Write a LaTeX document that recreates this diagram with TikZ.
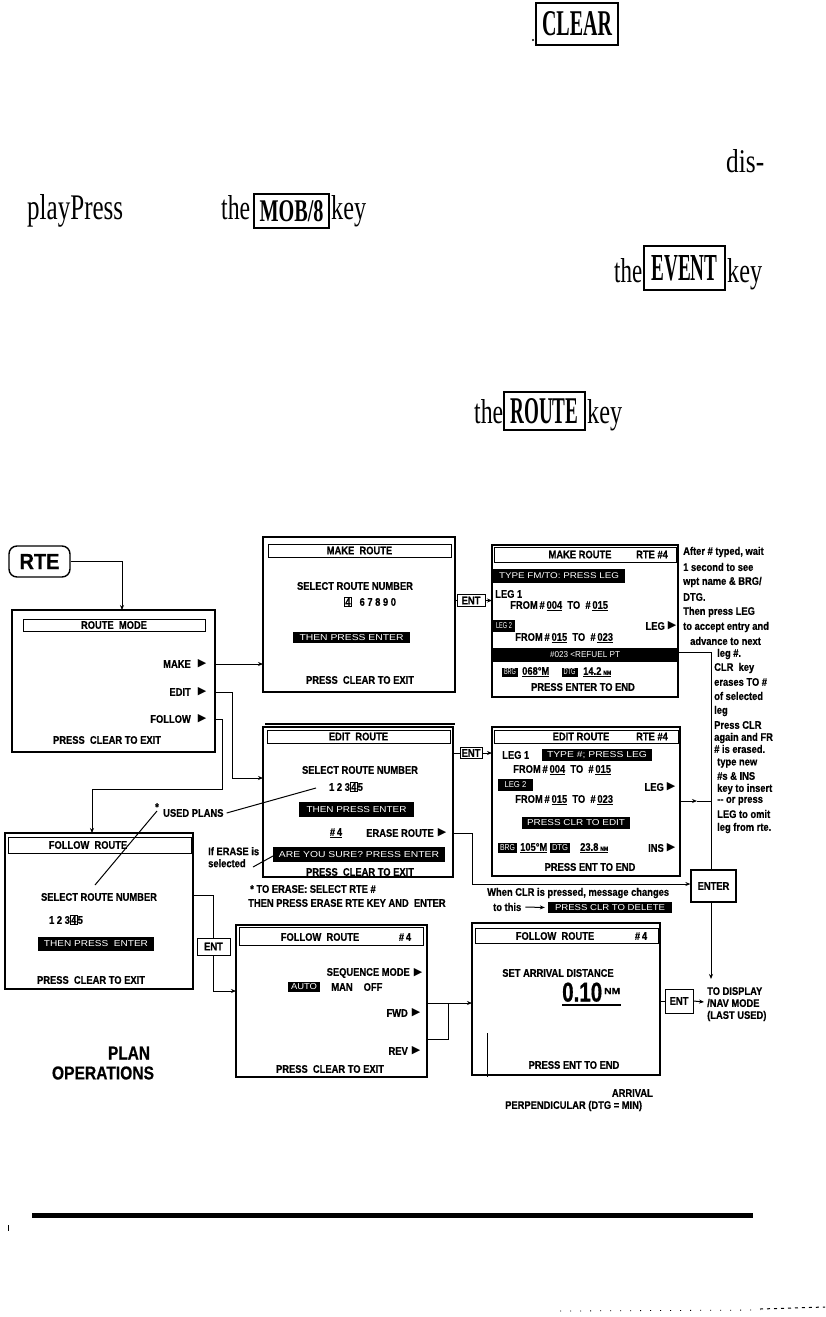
\documentclass[tikz,border=0pt]{standalone}
\usepackage{fontspec}
\usepackage{graphicx}
\usetikzlibrary{arrows.meta,calc}
\setmainfont{Liberation Serif}
\newfontfamily\dfont[FakeStretch=0.85,BoldFeatures={FakeBold=0.6}]{Liberation Sans}
\newfontfamily\symf{DejaVu Sans}
\newcommand{\tri}{{\symf\fontsize{11}{11}\selectfont ▶}}
\newcommand{\bxd}[1]{{\setlength\fboxsep{0.6pt}\setlength\fboxrule{0.7pt}\fbox{#1}}}
\newcommand{\ivt}[2]{\resizebox{#1pt}{6pt}{\dfont\mdseries #2}}
\newcommand{\uln}[1]{\underline{#1}}
\newcommand{\snm}{{\fontsize{6}{7}\selectfont NM}}
\tikzset{
 scr/.style={draw, line width=1.4pt, inner sep=0pt, outer sep=0pt, anchor=north west},
 ttl/.style={draw, line width=0.9pt, inner sep=0pt, font=\dfont\bfseries\fontsize{11}{12}\selectfont},
 tx/.style={inner sep=0pt, font=\dfont\bfseries\fontsize{11}{12}\selectfont},
 inv/.style={fill=black, text=white, inner sep=0pt},
 keyb/.style={draw, line width=1.4pt, inner sep=0pt},
 entb/.style={draw, line width=1pt, inner sep=0pt, font=\dfont\bfseries\fontsize{11}{12}\selectfont},
 arr/.style={-{Stealth[length=5pt,width=4pt]}, line width=1pt},
 ln/.style={line width=1pt},
 pr/.style={inner sep=0pt, anchor=base west},
 tg/.style={inner sep=0pt},
}
\begin{document}
\begin{tikzpicture}[x=1pt,y=-1pt]
\useasboundingbox (0,0) rectangle (825,1317);
\fill[white] (0,0) rectangle (825,1317);

% ---------- prose fragments ----------
\fill (533,40) circle (1.1);
\node[keyb, minimum width=82, minimum height=42] (kclr) at (577,24) {\resizebox{70pt}{24pt}{\bfseries CLEAR}};
\node[pr] (dis) at (726,172) {\resizebox{38pt}{23pt}{dis-}};
\node[pr] (pp) at (27,219) {\resizebox{96pt}{25pt}{playPress}};
\node[pr] (the1) at (221,219) {\resizebox{29pt}{24pt}{the}};
\node[keyb, minimum width=75, minimum height=34] (kmob) at (291.5,211) {\resizebox{64pt}{21pt}{\bfseries MOB/8}};
\node[pr] (key1) at (331,219) {\resizebox{35pt}{24pt}{key}};
\node[pr] (the2) at (614,282) {\resizebox{28pt}{24pt}{the}};
\node[keyb, minimum width=81, minimum height=44] (kev) at (684.5,268) {\resizebox{66pt}{25pt}{\bfseries EVENT}};
\node[pr] (key2) at (727,282) {\resizebox{35pt}{24pt}{key}};
\node[pr] (the3) at (474,423) {\resizebox{29pt}{24pt}{the}};
\node[keyb, minimum width=81, minimum height=38] (krt) at (544.5,411) {\resizebox{68pt}{25pt}{\bfseries ROUTE}};
\node[pr] (key3) at (587,423) {\resizebox{35pt}{24pt}{key}};

% ---------- RTE ----------
\node[draw, line width=1.4pt, rounded corners=8pt, minimum width=61, minimum height=31, inner sep=0pt] (rte) at (39.5,561.5) {\resizebox{40pt}{15pt}{\dfont\bfseries RTE}};

% ---------- ROUTE MODE ----------
\node[scr, minimum width=203, minimum height=142] (rm) at (12,610) {};
\node[ttl, minimum width=182, minimum height=12] (rmt) at (114,625) {ROUTE\ \ MODE};
\node[tx, anchor=east] (mkl) at (191,664) {MAKE};
\node[tg] (mk) at (202,664) {\tri};
\node[tx, anchor=east] (edl) at (191,692) {EDIT};
\node[tg] (ed) at (202,692) {\tri};
\node[tx, anchor=east] (fol) at (191,719) {FOLLOW};
\node[tg] (fo) at (202,719) {\tri};
\node[tx] (rmx) at (107,740) {PRESS\ \ CLEAR TO EXIT};

% ---------- MAKE ROUTE (select) ----------
\node[scr, minimum width=192, minimum height=155] (mr) at (263,537) {};
\draw[line width=2.5pt] (mr.north west) -- (mr.north east);
\node[ttl, minimum width=183, minimum height=13] (mrt) at (359.5,550.5) {MAKE\ \ ROUTE};
\node[tx] (mrs) at (355,586) {SELECT ROUTE NUMBER};
\node[tx] (mrn) at (370,602) {\bxd{4}\ \ \ 6\ 7\ 8\ 9\ 0};
\node[inv, minimum width=117, minimum height=11] (mri) at (351.5,637.5) {\ivt{104}{THEN PRESS ENTER}};
\node[tx] (mrx) at (360,680) {PRESS\ \ CLEAR TO EXIT};
\node[entb, minimum width=28, minimum height=12] (ent1) at (471,600.5) {ENT};

% ---------- MAKE ROUTE RTE #4 ----------
\node[scr, minimum width=186, minimum height=152] (mr4) at (492,545) {};
\node[ttl, minimum width=182, minimum height=15] (mr4t) at (585,554.5) {};
\node[tx] (mr4a) at (580,554.5) {MAKE ROUTE};
\node[tx] (mr4b) at (652,554.5) {RTE \#4};
\node[inv, minimum width=132, minimum height=14] (mr4i) at (559,576) {\ivt{120}{TYPE FM/TO: PRESS LEG}};
\node[tx, anchor=west] (mr4l1) at (495,594) {LEG 1};
\node[tx, anchor=west] (mr4f1) at (510,606) {FROM\,\#\,\uln{004}\ \ TO\ \ \#\,\uln{015}};
\node[inv, minimum width=22, minimum height=12] (mr4l2) at (504,626) {\ivt{16}{LEG 2}};
\node[tx, anchor=east] (mr4lg) at (665,626) {LEG};
\node[tg] (mr4lgt) at (672,626) {\tri};
\node[tx, anchor=west] (mr4f2) at (515,638) {FROM\,\#\,\uln{015}\ \ TO\ \ \#\,\uln{023}};
\node[inv, minimum width=186, minimum height=14] (mr4w) at (585,655) {\ivt{70}{\#023 <REFUEL PT}};
\node[inv, minimum width=16, minimum height=9] (mr4b1) at (510,672) {\ivt{12}{BRG}};
\node[tx, anchor=west] (mr4b2) at (522,672) {\uln{068°M}};
\node[inv, minimum width=16, minimum height=9] (mr4d1) at (569.5,672) {\ivt{12}{DTG}};
\node[tx, anchor=west] (mr4d2) at (583,672) {\uln{14.2\,\snm}};
\node[tx] (mr4x) at (583,687) {PRESS ENTER TO END};

% ---------- EDIT ROUTE (select) ----------
\node[scr, minimum width=190, minimum height=150] (er) at (263,727) {};
\draw[line width=2pt] (265,724) -- (455,724);
\node[ttl, minimum width=183, minimum height=13] (ert) at (358.5,736.5) {EDIT\ \ ROUTE};
\node[tx] (ers) at (360,770) {SELECT ROUTE NUMBER};
\node[tx] (ern) at (346,787) {1\ 2\ 3\bxd{4}5};
\node[inv, minimum width=115, minimum height=15] (eri) at (356.5,809.5) {\ivt{100}{THEN PRESS ENTER}};
\node[tx] (ern4) at (336,833) {\uln{\#\,4}};
\node[tx, anchor=east] (ere) at (434,833) {ERASE ROUTE};
\node[tg] (eret) at (442,833) {\tri};
\node[inv, minimum width=172, minimum height=15] (ersu) at (359,854.5) {\ivt{160}{ARE YOU SURE? PRESS ENTER}};
\node[tx] (erx) at (360,872) {PRESS\ \ CLEAR TO EXIT};
\node[entb, minimum width=22, minimum height=11] (ent2) at (471,753) {ENT};

% ---------- EDIT ROUTE RTE #4 ----------
\node[scr, minimum width=188, minimum height=149] (er4) at (492,727) {};
\node[ttl, minimum width=184, minimum height=13] (er4t) at (586,736.5) {};
\node[tx] (er4a) at (581,736.5) {EDIT ROUTE};
\node[tx] (er4b) at (652,736.5) {RTE \#4};
\node[tx, anchor=west] (er4l1) at (502,755) {LEG 1};
\node[inv, minimum width=110, minimum height=12] (er4i) at (597,755) {\ivt{100}{TYPE \#; PRESS LEG}};
\node[tx, anchor=west] (er4f1) at (513,770) {FROM\,\#\,\uln{004}\ \ TO\ \ \#\,\uln{015}};
\node[inv, minimum width=35, minimum height=12] (er4l2) at (515.5,785) {\ivt{22}{LEG 2}};
\node[tx, anchor=east] (er4lg) at (664,787) {LEG};
\node[tg] (er4lgt) at (671,787) {\tri};
\node[tx, anchor=west] (er4f2) at (515,800) {FROM\,\#\,\uln{015}\ \ TO\ \ \#\,\uln{023}};
\node[inv, minimum width=108, minimum height=12] (er4c) at (576,823) {\ivt{98}{PRESS CLR TO EDIT}};
\node[inv, minimum width=19, minimum height=10] (er4b1) at (507.5,848) {\ivt{15}{BRG}};
\node[tx, anchor=west] (er4b2) at (520,848) {\uln{105°M}};
\node[inv, minimum width=20, minimum height=10] (er4d1) at (560,848) {\ivt{16}{DTG}};
\node[tx, anchor=west] (er4d2) at (580,848) {\uln{23.8\,\snm}};
\node[tx, anchor=east] (er4ins) at (664,848) {INS};
\node[tg] (er4inst) at (671,848) {\tri};
\node[tx] (er4x) at (590,867) {PRESS ENT TO END};

\node[tx, anchor=west] (wclr) at (487,893) {When CLR is pressed, message changes};
\node[tx, anchor=west] (tthis) at (493,907) {to this};
\node[inv, minimum width=124, minimum height=11] (pcd) at (610,907.5) {\ivt{110}{PRESS CLR TO DELETE}};

\node[entb, line width=1.3pt, minimum width=45, minimum height=32] (enter) at (713.5,886) {ENTER};
\node[tx, anchor=north west, align=left] (todisp) at (707,987) {TO DISPLAY\\/NAV MODE\\(LAST USED)};

% ---------- notes column ----------
\node[tx, anchor=west] (n1) at (683,552) {After \# typed, wait};
\node[tx, anchor=west] (n2) at (683,567) {1 second to see};
\node[tx, anchor=west] (n3) at (683,582) {wpt name \& BRG/};
\node[tx, anchor=west] (n4) at (683,597) {DTG.};
\node[tx, anchor=west] (n5) at (683,612) {Then press LEG};
\node[tx, anchor=west] (n6) at (683,627) {to accept entry and};
\node[tx, anchor=west] (n7) at (690,641) {advance to next};
\node[tx, anchor=west] (n8) at (717,654) {leg \#.};
\node[tx, anchor=west] (n9) at (714,668) {CLR\ \ key};
\node[tx, anchor=west] (n10) at (714,682) {erases TO \#};
\node[tx, anchor=west] (n11) at (714,696) {of selected};
\node[tx, anchor=west] (n12) at (714,711) {leg};
\node[tx, anchor=west] (n13) at (714,725) {Press CLR};
\node[tx, anchor=west] (n14) at (714,738) {again and FR};
\node[tx, anchor=west] (n15) at (714,749) {\# is erased.};
\node[tx, anchor=west] (n16) at (717,763) {type new};
\node[tx, anchor=west] (n17) at (717,776) {\#s \& INS};
\node[tx, anchor=west] (n18) at (717,789) {key to insert};
\node[tx, anchor=west] (n19) at (717,801) {-- or press};
\node[tx, anchor=west] (n20) at (717,814) {LEG to omit};
\node[tx, anchor=west] (n21) at (717,828) {leg from rte.};

% ---------- FOLLOW ROUTE (select) ----------
\node[scr, minimum width=188, minimum height=156] (fr) at (5,833) {};
\node[ttl, minimum width=183, minimum height=16] (frt) at (99.5,845) {};
\node[tx] (frtt) at (88,845) {FOLLOW\ \ ROUTE};
\node[tx] (frs) at (99,897) {SELECT ROUTE NUMBER};
\node[tx] (frn) at (66,920) {1\ 2\ 3\bxd{4}5};
\node[inv, minimum width=116, minimum height=14] (fri) at (96,944) {\ivt{104}{THEN PRESS\ \ ENTER}};
\node[tx] (frx) at (91,980) {PRESS\ \ CLEAR TO EXIT};
\node[entb, minimum width=33, minimum height=17] (ent3) at (213.5,946.5) {ENT};

% ---------- FOLLOW ROUTE #4 (mode) ----------
\node[scr, minimum width=191, minimum height=152] (fm) at (236,925) {};
\node[ttl, minimum width=184, minimum height=18] (fmt) at (331,936.5) {};
\node[tx] (fmta) at (320,937) {FOLLOW\ \ ROUTE};
\node[tx] (fmtb) at (405,937) {\#\,4};
\node[tx, anchor=east] (fmsq) at (410,973) {SEQUENCE MODE};
\node[tg] (fmsqt) at (418,973) {\tri};
\node[inv, minimum width=32, minimum height=10] (fmau) at (304,987) {\ivt{26}{AUTO}};
\node[tx] (fmman) at (342,987) {MAN};
\node[tx] (fmoff) at (373,987) {OFF};
\node[tx, anchor=east] (fmfw) at (408,1013) {FWD};
\node[tg] (fmfwt) at (416,1013) {\tri};
\node[tx, anchor=east] (fmrv) at (408,1051) {REV};
\node[tg] (fmrvt) at (416,1051) {\tri};
\node[tx] (fmx) at (330,1069) {PRESS\ \ CLEAR TO EXIT};

% ---------- FOLLOW ROUTE #4 (arrival) ----------
\node[scr, minimum width=188, minimum height=152] (fa) at (472,923) {};
\node[ttl, minimum width=183, minimum height=15] (fat) at (566.5,935.5) {};
\node[tx] (fata) at (555,936) {FOLLOW\ \ ROUTE};
\node[tx] (fatb) at (641,936) {\#\,4};
\node[tx] (fas) at (558,973) {SET ARRIVAL DISTANCE};
\node[tg, anchor=south west] (fad) at (562,1002) {\resizebox{40pt}{19pt}{\dfont\bfseries 0.10}};
\node[tg, anchor=west] (fanm) at (604,991) {\resizebox{16pt}{6pt}{\dfont\bfseries NM}};
\draw[line width=1.5pt] (562,1005) -- (621,1005);
\node[tx] (fax) at (574,1065) {PRESS ENT TO END};
\draw[ln] (487,1033) -- (487,1077);
\node[entb, minimum width=28, minimum height=24] (ent4) at (679,1001) {ENT};

\node[tx, anchor=east] (arrv) at (653,1093) {ARRIVAL};
\node[tx, anchor=west] (perp) at (505,1106) {PERPENDICULAR (DTG = MIN)};
\node[tg] (plan) at (129,1053) {\resizebox{42pt}{13pt}{\dfont\bfseries PLAN}};
\node[tg] (oper) at (103,1073) {\resizebox{102pt}{13pt}{\dfont\bfseries OPERATIONS}};

% ---------- annotations ----------
\node[tx] (star1) at (157,807) {*};
\node[tx, anchor=west] (upl) at (163,813) {USED PLANS};
\coordinate (upa) at (316,788);
\coordinate (upb) at (95,885);
\draw[ln] ($(upl.east)+(3,0)$) -- (upa);
\draw[ln] (star1.south) -- (upb);
\node[tx, anchor=north west, align=left] (ife) at (208,847) {If ERASE is\\selected};
\coordinate (ifs) at (253,867);
\coordinate (ifa) at (273,856);
\draw[ln] (ifs) -- (ifa);
\node[tx, anchor=west] (toe1) at (250,889) {* TO ERASE: SELECT RTE \#};
\node[tx, anchor=west] (toe2) at (248,903) {THEN PRESS ERASE RTE KEY AND\ \ ENTER};

% ---------- connectors ----------
\coordinate (rmin) at (122,610);
\draw[arr] (rte.east) -| (rmin);
\draw[arr] (mk -| rm.east) -- (mk -| mr.west);
\coordinate (erin) at (263,778);
\draw[arr] (ed -| rm.east) -- ++(17,0) |- (erin);
\coordinate (frin) at (92,833);
\draw[arr] (fo -| rm.east) -- ++(7,0) -- ++(0,70) -| (frin);
\draw[ln] (ent1.west -| mr.east) -- (ent1.west);
\draw[arr] (ent1.east) -- (ent1.east -| mr4.west);
\draw[ln] (ent2.west -| er.east) -- (ent2.west);
\draw[arr] (ent2.east) -- (ent2.east -| er4.west);
\coordinate (vtop) at (711,652);
\draw[ln] (vtop -| mr4.east) -- (vtop) -- (vtop |- enter.north);
\coordinate (legarr) at (697,801);
\draw[arr] (legarr -| er4.east) -- (legarr);
\draw[ln] (legarr) -- (legarr -| vtop);
\coordinate (erc) at (472,884);
\draw[arr] (eret -| er.east) -| (erc) -- (erc -| enter.west);
\coordinate (dispin) at (711,979);
\draw[arr] (vtop |- enter.south) -- (dispin);
\draw[arr] ($(tthis.east)+(4,0)$) -- ($(pcd.west)+(-3,0)$);
\coordinate (frc) at (213.5,895);
\draw[ln] (frc -| fr.east) -- (frc) -- (ent3.north);
\coordinate (fmin) at (236,991);
\draw[arr] (ent3.south) |- (fmin);
\coordinate (fw) at (448,1003);
\draw[arr] (fw -| fm.east) -- (fw -| fa.west);
\coordinate (rv) at (448,1039);
\draw[ln] (rv -| fm.east) -- (rv) -- (fw);
\draw[ln] (ent4.west -| fa.east) -- (ent4.west);
\coordinate (ent4o) at (704,1002);
\draw[arr] (ent4.east) -- (ent4o);

% ---------- page rule and specks ----------
\fill (32,1213) rectangle (753,1218);
\draw[line width=1pt] (8,1225) -- (8,1231);
\draw[line width=0.8pt, dash pattern=on 1pt off 9pt] (560,1311) -- (760,1310);
\draw[line width=1pt, dash pattern=on 3pt off 4pt] (760,1309) -- (825,1307);
\end{tikzpicture}
\end{document}
